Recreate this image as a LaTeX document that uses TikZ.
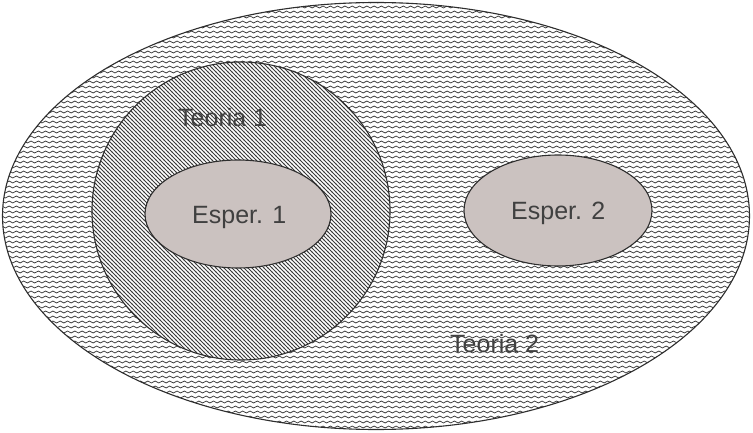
\documentclass[tikz,border=0pt]{standalone}
\usepackage{fontspec}
\setmainfont{Liberation Sans}
\usetikzlibrary{patterns.meta}
\definecolor{edge}{HTML}{2E2E2E}
\definecolor{txt}{HTML}{404040}
\definecolor{expfill}{HTML}{CBC2C0}
\definecolor{pat}{HTML}{3A3A3A}
\tikzdeclarepattern{
  name=mywaves,
  type=uncolored,
  bounding box={(-0.2pt,-2.5pt) and (7.5pt,2.5pt)},
  tile size={(7.3pt,5pt)},
  code={
    \draw[line width=0.75pt] (0,0) sin (1.825pt,0.95pt) cos (3.65pt,0) sin (5.475pt,-0.95pt) cos (7.3pt,0);
  }
}
\tikzdeclarepattern{
  name=myhatch,
  type=uncolored,
  bounding box={(-0.5pt,-0.5pt) and (4.5pt,4.5pt)},
  tile size={(4pt,4pt)},
  code={
    \draw[line width=0.75pt] (-0.5pt,4.5pt) -- (4.5pt,-0.5pt);
  }
}
\tikzset{
  outline/.style={draw=edge, line width=1.1pt},
  label/.style={text=txt, inner sep=0pt, font=\fontsize{25}{30}\selectfont},
}
\begin{document}
\begin{tikzpicture}[x=1pt,y=1pt]
\useasboundingbox (0,0) rectangle (753,432);
% Teoria 2 (big ellipse)
\fill[white] (376,216) ellipse [x radius=373.5, y radius=213.5];
\fill[pattern={mywaves}, pattern color=pat] (376,216) ellipse [x radius=373.5, y radius=213.5];
\draw[outline] (376,216) ellipse [x radius=373.5, y radius=213.5];
% Teoria 1 (circle)
\fill[white] (241,221) circle [radius=149];
\fill[pattern={myhatch}, pattern color=pat] (241,221) circle [radius=149];
\draw[outline] (241,221) circle [radius=149];
% Esper. 1
\filldraw[outline, fill=expfill] (238,218) ellipse [x radius=93, y radius=54];
% Esper. 2
\filldraw[outline, fill=expfill] (558,221.5) ellipse [x radius=94, y radius=55.5];
% labels
\node[label, anchor=base west] (t1) at (178,305) {Teoria 1};
\node[label, anchor=base west] (t2) at (450,80) {Teoria 2};
\node[label, anchor=base west] (e1) at (192,208) {Esper. 1};
\node[label, anchor=base west] (e2) at (511,213) {Esper. 2};
\end{tikzpicture}
\end{document}
